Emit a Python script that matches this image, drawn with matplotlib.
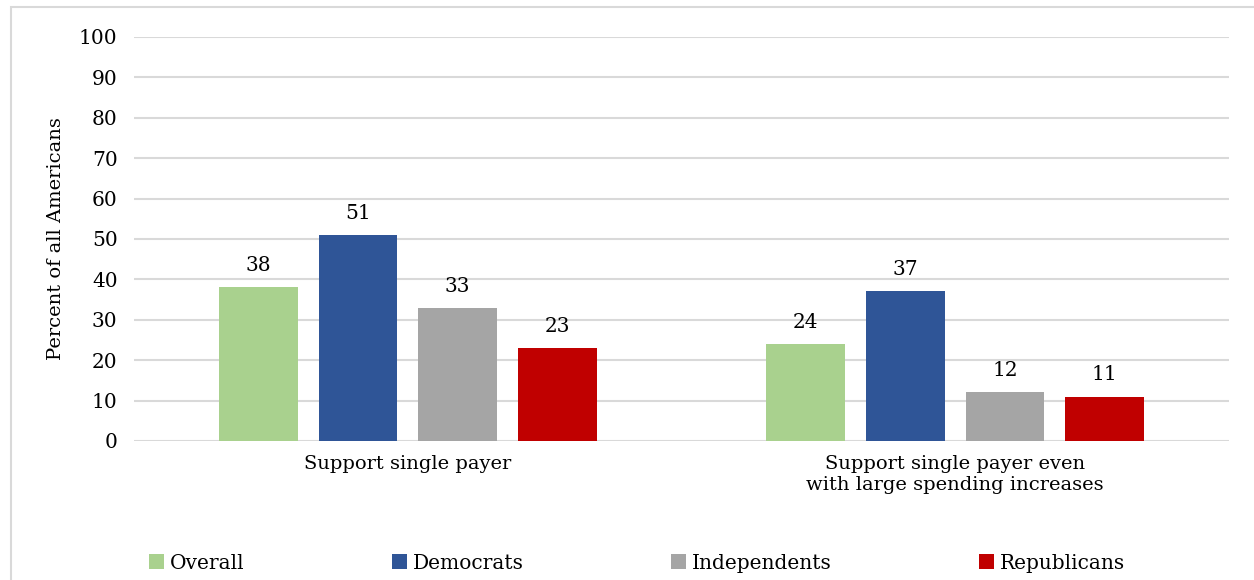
import matplotlib.pyplot as plt
import numpy as np
from matplotlib.patches import Rectangle

plt.rcParams['font.family'] = ['DejaVu Serif']

categories = ['Support single payer',
              'Support single payer even\nwith large spending increases']
series = ['Overall', 'Democrats', 'Independents', 'Republicans']
values = {
    'Overall': [38, 24],
    'Democrats': [51, 37],
    'Independents': [33, 12],
    'Republicans': [23, 11],
}
colors = ['#a9d18e', '#2f5597', '#a5a5a5', '#c00000']

fig = plt.figure(figsize=(12.54, 5.8), dpi=100)
ax = fig.add_axes([0.107, 0.2397, 0.873, 0.6966])

# outer chart border (cut off at right and bottom)
fig.patches.append(Rectangle((0.0088, -0.05), 1.2, 1.038, transform=fig.transFigure,
                             fill=False, edgecolor='#d9d9d9', lw=1.5))

x = np.arange(len(categories))
width = 0.144
step = 0.182
for i, (name, c) in enumerate(zip(series, colors)):
    pos = x + (i - 1.5) * step
    bars = ax.bar(pos, values[name], width, color=c, label=name, zorder=3)
    for b, v in zip(bars, values[name]):
        ax.text(b.get_x() + b.get_width() / 2, v + 3, str(v),
                ha='center', va='bottom', fontsize=14.5)

ax.set_xlim(-0.5, 1.5)
ax.set_ylim(0, 100)
ax.set_yticks(range(0, 101, 10))
ax.set_xticks(x)
ax.set_xticklabels(categories, fontsize=14)
ax.tick_params(axis='y', labelsize=14.5, length=0, pad=12)
ax.tick_params(axis='x', length=0, pad=10)
ax.grid(axis='y', color='#d9d9d9', lw=1.5, zorder=0)
for s in ax.spines.values():
    s.set_visible(False)
ax.set_ylabel('Percent of all Americans', fontsize=14, labelpad=10)

fig.legend(loc='center', bbox_to_anchor=(0.508, 0.029), ncol=4, frameon=False,
           fontsize=14.5, handlelength=0.75, handleheight=0.75, handletextpad=0.3,
           columnspacing=7.3)

fig.savefig('out.png', dpi=100)
